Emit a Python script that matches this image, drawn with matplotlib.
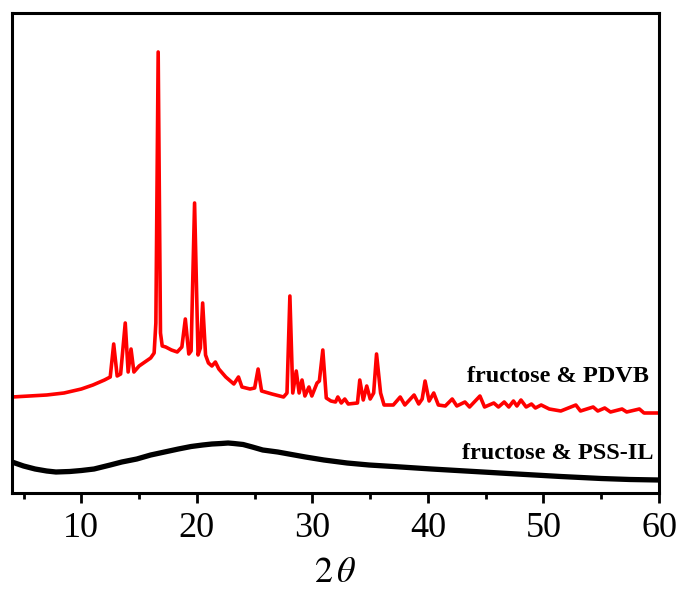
import matplotlib.pyplot as plt

# ================= DATA =================
# 2-theta positions and intensities (arbitrary units) of the PDVB trace
pdvb_x = [4.0, 5.5, 7.0, 8.5, 10.0, 11.0, 12.0, 12.5, 12.8, 13.1, 13.4, 13.8, 14.05,
          14.3, 14.55, 15.0, 15.5, 16.0, 16.3, 16.45, 16.65, 16.85, 17.0, 17.3, 17.8,
          18.3, 18.7, 19.0, 19.3, 19.5, 19.8, 20.1, 20.3, 20.5, 20.75, 21.0, 21.3,
          21.6, 21.9, 22.5, 23.2, 23.6, 23.9, 24.6, 25.0, 25.3, 25.6, 26.5, 27.5,
          27.8, 28.05, 28.3, 28.6, 28.85, 29.1, 29.35, 29.7, 29.95, 30.4, 30.6, 30.9,
          31.2, 31.6, 32.0, 32.2, 32.5, 32.8, 33.1, 33.9, 34.1, 34.4, 34.7, 35.0,
          35.3, 35.55, 35.9, 36.2, 37.0, 37.6, 38.0, 38.8, 39.2, 39.5, 39.75, 40.1,
          40.5, 40.9, 41.5, 42.1, 42.5, 43.2, 43.6, 44.5, 44.9, 45.7, 46.1, 46.6,
          47.0, 47.4, 47.7, 48.05, 48.5, 48.96, 49.3, 49.8, 50.5, 51.5, 52.8, 53.2,
          54.3, 54.7, 55.3, 55.8, 56.8, 57.2, 58.3, 58.7, 60.0]
pdvb_y = [96, 97, 98, 100, 104, 108, 113, 116, 149, 117, 119, 170, 121,
          144, 121, 127, 131, 135, 140, 170, 441, 160, 147, 146, 143,
          141, 146, 174, 139, 142, 290, 138, 145, 190, 138, 130, 127,
          131, 124, 116, 109, 116, 106, 104, 105, 124, 102, 99, 96,
          100, 197, 100, 122, 100, 113, 97, 106, 97, 110, 112, 143,
          95, 92, 91, 96, 90, 94, 89, 90, 113, 93, 107, 94,
          100, 139, 100, 88, 88, 96, 88, 98, 89, 94, 112, 92,
          100, 88, 87, 94, 87, 91, 86, 97, 86, 90, 86, 91,
          86, 92, 87, 93, 86, 89, 85, 88, 84, 82, 88, 82,
          86, 82, 85, 81, 84, 81, 84, 80, 80]

# PSS-IL trace: broad amorphous hump
pssil_x = [4.0, 5.0, 6.0, 7.0, 7.8, 9.0, 10.0, 11.1, 12.5, 13.5, 14.8, 16.0, 17.2,
           18.4, 19.5, 20.5, 21.3, 22.1, 22.7, 23.2, 24.0, 24.8, 25.7, 27.0, 28.2,
           29.4, 31.0, 33.0, 34.9, 37.0, 40.3, 44.0, 47.7, 51.5, 55.0, 57.5, 60.0]
pssil_y = [31, 27, 24, 22, 21, 21.5, 22.5, 24, 28, 31, 34, 38, 41,
           44, 46.5, 48, 49, 49.5, 50, 49.5, 48.5, 46, 43, 41, 38.5,
           36, 33, 30, 28, 26.5, 24, 21.5, 19, 16.5, 14.5, 13.5, 13]

labels = ["fructose & PDVB", "fructose & PSS-IL"]
xticks = [10, 20, 30, 40, 50, 60]
minor_ticks = [5, 15, 25, 35, 45, 55]
# =================================================================

plt.rcParams['font.family'] = ['Liberation Serif', 'DejaVu Serif']
plt.rcParams['mathtext.fontset'] = 'stix'

fig = plt.figure(figsize=(6.83, 5.9), dpi=100)
ax = fig.add_axes([0.0176, 0.1644, 0.9473, 0.8136])

ax.plot(pdvb_x, pdvb_y, color='#ff0000', lw=2.6, solid_joinstyle='round')
ax.plot(pssil_x, pssil_y, color='black', lw=3.8, solid_joinstyle='round')

ax.text(59.1, 116, labels[0], ha='right', va='center', fontsize=17.5, fontweight='bold')
ax.text(59.5, 40, labels[1], ha='right', va='center', fontsize=17.5, fontweight='bold')

ax.set_xlim(4, 60)
ax.set_ylim(0, 480)
ax.set_xticks(xticks)
ax.set_xticks(minor_ticks, minor=True)
ax.set_yticks([])
ax.tick_params(axis='x', which='major', direction='out', length=7, width=2,
               labelsize=26, pad=7)
ax.tick_params(axis='x', which='minor', direction='out', length=4, width=2)
for s in ax.spines.values():
    s.set_linewidth(2.2)

ax.set_xlabel(r'$2\,\theta$', fontsize=26, labelpad=8)

plt.savefig('out.png', dpi=100)
